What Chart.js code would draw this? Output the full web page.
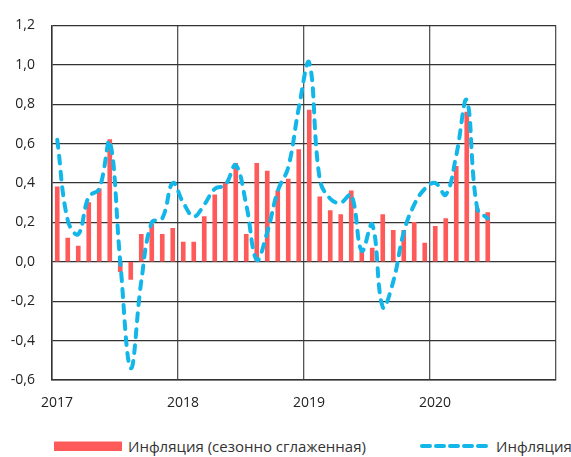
<!DOCTYPE html>
<html>
<head>
<meta charset="utf-8">
<script src="https://cdn.jsdelivr.net/npm/chart.js@4.4.1/dist/chart.umd.min.js"></script>
<style>
    html, body { margin: 0; padding: 0; background: #fff; }
    #wrap { position: relative; width: 571px; height: 457px; overflow: hidden; }
    #chart { position: absolute; left: 0; top: 0; }
    .legend { position: absolute; top: 436px; font-family: "Open Sans", sans-serif; font-size: 15px; color: #333; display: flex; align-items: center; white-space: nowrap; }
    .legend svg { margin-right: 6px; }
</style>
</head>
<body>
<div id="wrap">
    <canvas id="chart" width="571" height="425"></canvas>
    <div class="legend" style="left:54px">
        <svg width="68" height="10"><rect x="0" y="0.5" width="68" height="9.5" fill="#ff5a5a"></rect></svg>
        <span>Инфляция (сезонно сглаженная)</span>
    </div>
    <div class="legend" style="left:420px">
        <svg width="70" height="10"><line x1="2" y1="5" x2="68" y2="5" stroke="#12b6e8" stroke-width="4" stroke-linecap="round" stroke-dasharray="8 6"></line></svg>
        <span>Инфляция</span>
    </div>
</div>
<script>
var yearLabels = ["2017", "2018", "2019", "2020", ""];

// месячные значения, янв 2017 - июн 2020
var inflSmoothed = [
    0.38, 0.12, 0.08, 0.30, 0.37, 0.62, -0.05, -0.09, 0.14, 0.19, 0.14, 0.17,
    0.10, 0.10, 0.23, 0.34, 0.40, 0.50, 0.14, 0.50, 0.46, 0.36, 0.42, 0.57,
    0.77, 0.33, 0.26, 0.24, 0.36, 0.055, 0.07, 0.24, 0.16, 0.16, 0.20, 0.095,
    0.18, 0.22, 0.485, 0.76, 0.27, 0.25
];
var infl = [
    0.62, 0.21, 0.14, 0.33, 0.37, 0.61, 0.00, -0.54, -0.10, 0.20, 0.22, 0.40,
    0.30, 0.23, 0.29, 0.37, 0.39, 0.49, 0.29, 0.01, 0.15, 0.36, 0.48, 0.78,
    1.01, 0.42, 0.32, 0.30, 0.34, 0.055, 0.19, -0.23, -0.10, 0.15, 0.29, 0.37,
    0.40, 0.34, 0.54, 0.82, 0.27, 0.22
];

var ctx = document.getElementById("chart");
var font = { family: "'Open Sans', sans-serif", size: 14 };

new Chart(ctx, {
    type: "bar",
    data: {
        datasets: [
            {
                type: "line",
                label: "Инфляция",
                data: infl.map((v, i) => ({ x: i + 0.5, y: v })),
                borderColor: "#12b6e8",
                borderWidth: 4,
                borderDash: [8, 8],
                borderCapStyle: "round",
                pointRadius: 0,
                tension: 0.4,
                fill: false,
                order: 1,
            },
            {
                label: "Инфляция (сезонно сглаженная)",
                data: inflSmoothed.map((v, i) => ({ x: i + 0.5, y: v })),
                backgroundColor: "#ff5a5a",
                barThickness: 4,
                order: 2,
            },
        ],
    },
    options: {
        responsive: false,
        animation: false,
        layout: { padding: { top: 22, right: 9, left: 0, bottom: 0 } },
        plugins: {
            legend: { display: false },
            tooltip: { enabled: false },
        },
        scales: {
            x: {
                type: "linear",
                offset: false,
                min: 0,
                max: 48,
                ticks: {
                    stepSize: 12,
                    font: font,
                    color: "#222",
                    padding: 15,
                    labelOffset: 5,
                    maxRotation: 0,
                    callback: (v) => yearLabels[v / 12],
                },
                grid: { offset: false, color: "#555", lineWidth: 1.3, drawTicks: false },
                border: { color: "#333", width: 1.5 },
                afterFit: (s) => { s.height = 45; },
            },
            y: {
                min: -0.6,
                max: 1.2,
                ticks: {
                    stepSize: 0.2,
                    font: font,
                    color: "#222",
                    padding: 17,
                    callback: (v) => v.toFixed(1).replace(".", ","),
                },
                grid: { color: "#333", lineWidth: 1.3, drawTicks: false },
                border: { color: "#333", width: 1.5 },
                afterFit: (s) => { s.width = 52; },
            },
        },
    },
});
</script>
</body>
</html>
